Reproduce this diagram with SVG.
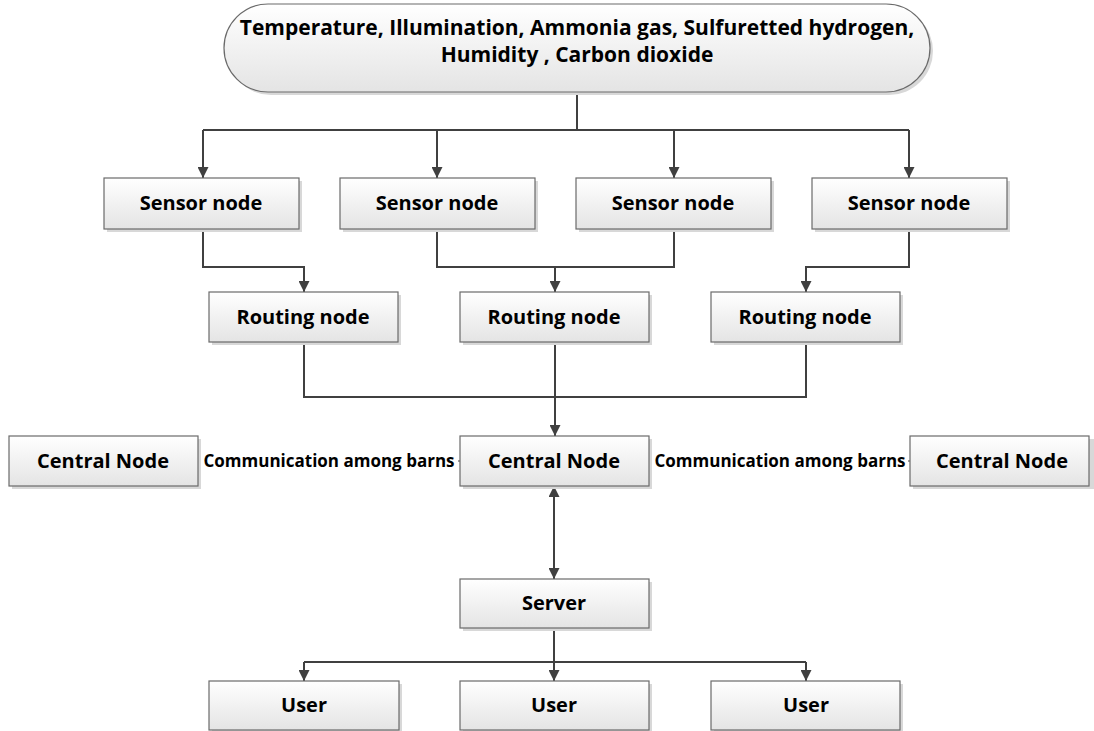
<svg xmlns="http://www.w3.org/2000/svg" width="1094" height="731" viewBox="0 0 1094 731">
<defs>
<linearGradient id="g" x1="0" y1="0" x2="0" y2="1">
<stop offset="0" stop-color="#ffffff"/>
<stop offset="1" stop-color="#e4e4e4"/>
</linearGradient>
<marker id="arr" viewBox="0 0 10 10" refX="10" refY="5" markerWidth="11" markerHeight="11" markerUnits="userSpaceOnUse" orient="auto-start-reverse">
<path d="M0,0 L10,5 L0,10 z" fill="#404040"/>
</marker>
</defs>
<style>
.box{fill:url(#g);stroke:#6a6a6a;stroke-width:1.2}
.sh{fill:#d8d8d8}
.t{font-family:"Open Sans","Liberation Sans",Arial,sans-serif;font-weight:bold;font-size:20px;fill:#000;text-anchor:middle}
.tt{font-size:21px}
.lbl{font-family:"Open Sans","Liberation Sans",Arial,sans-serif;font-weight:bold;font-size:17px;fill:#000;text-anchor:middle}
.c{fill:none;stroke:#404040;stroke-width:2}
.a{marker-end:url(#arr)}
</style>
<rect width="1094" height="731" fill="#ffffff"/>
<g id="connectors">
<path class="c" d="M577,92 V130 M203,130 H909"/>
<path class="c a" d="M203,130 V178"/>
<path class="c a" d="M437,130 V178"/>
<path class="c a" d="M674,130 V178"/>
<path class="c a" d="M909,130 V178"/>
<path class="c a" d="M203,229 V267 H304 V292"/>
<path class="c" d="M437,229 V267 H674 V229"/>
<path class="c a" d="M555,267 V292"/>
<path class="c a" d="M909,229 V267 H806 V292"/>
<path class="c" d="M304,342 V397 H806 V342"/>
<path class="c a" d="M555,342 V436"/>
<path class="c" style="stroke-width:1" d="M199,461 H460 M649,461 H910"/>
<path class="c a" style="marker-start:url(#arr)" d="M554,486 V579"/>
<path class="c a" d="M554,628 V681"/>
<path class="c" d="M304,662 H806"/>
<path class="c a" d="M304,662 V681"/>
<path class="c a" d="M806,662 V681"/>
<rect x="201" y="450" width="257" height="22" fill="#ffffff"/>
<rect x="652" y="450" width="256" height="22" fill="#ffffff"/>
<text class="lbl" x="329" y="467">Communication among barns</text>
<text class="lbl" x="780" y="467">Communication among barns</text>
</g>
<g id="top">
<rect class="sh" x="227" y="7" width="706" height="88" rx="44"/>
<rect class="box" x="224" y="4" width="706" height="88" rx="44"/>
<text class="t tt" x="577" y="35">Temperature, Illumination, Ammonia gas, Sulfuretted hydrogen,</text>
<text class="t tt" x="577" y="62">Humidity , Carbon dioxide</text>
</g>
<g id="sensor1"><rect class="sh" x="107" y="181" width="195" height="51"/><rect class="box" x="104" y="178" width="195" height="51"/><text class="t" x="201" y="210">Sensor node</text></g>
<g id="sensor2"><rect class="sh" x="343" y="181" width="195" height="51"/><rect class="box" x="340" y="178" width="195" height="51"/><text class="t" x="437" y="210">Sensor node</text></g>
<g id="sensor3"><rect class="sh" x="579" y="181" width="195" height="51"/><rect class="box" x="576" y="178" width="195" height="51"/><text class="t" x="673" y="210">Sensor node</text></g>
<g id="sensor4"><rect class="sh" x="815" y="181" width="195" height="51"/><rect class="box" x="812" y="178" width="195" height="51"/><text class="t" x="909" y="210">Sensor node</text></g>
<g id="routing1"><rect class="sh" x="212" y="295" width="189" height="50"/><rect class="box" x="209" y="292" width="189" height="50"/><text class="t" x="303" y="324">Routing node</text></g>
<g id="routing2"><rect class="sh" x="463" y="295" width="189" height="50"/><rect class="box" x="460" y="292" width="189" height="50"/><text class="t" x="554" y="324">Routing node</text></g>
<g id="routing3"><rect class="sh" x="714" y="295" width="189" height="50"/><rect class="box" x="711" y="292" width="189" height="50"/><text class="t" x="805" y="324">Routing node</text></g>
<g id="central-left"><rect class="sh" x="12" y="439" width="189" height="50"/><rect class="box" x="9" y="436" width="189" height="50"/><text class="t" x="103" y="468">Central Node</text></g>
<g id="central"><rect class="sh" x="463" y="439" width="189" height="50"/><rect class="box" x="460" y="436" width="189" height="50"/><text class="t" x="554" y="468">Central Node</text></g>
<g id="central-right"><rect class="sh" x="913" y="439" width="189" height="50"/><rect class="box" x="910" y="436" width="179" height="50"/><text class="t" x="1002" y="468">Central Node</text></g>
<g id="server"><rect class="sh" x="463" y="582" width="189" height="49"/><rect class="box" x="460" y="579" width="189" height="49"/><text class="t" x="554" y="610">Server</text></g>
<g id="user1"><rect class="sh" x="212" y="684" width="190" height="49"/><rect class="box" x="209" y="681" width="190" height="49"/><text class="t" x="304" y="712">User</text></g>
<g id="user2"><rect class="sh" x="463" y="684" width="189" height="49"/><rect class="box" x="460" y="681" width="189" height="49"/><text class="t" x="554" y="712">User</text></g>
<g id="user3"><rect class="sh" x="714" y="684" width="189" height="49"/><rect class="box" x="711" y="681" width="189" height="49"/><text class="t" x="806" y="712">User</text></g>
</svg>
